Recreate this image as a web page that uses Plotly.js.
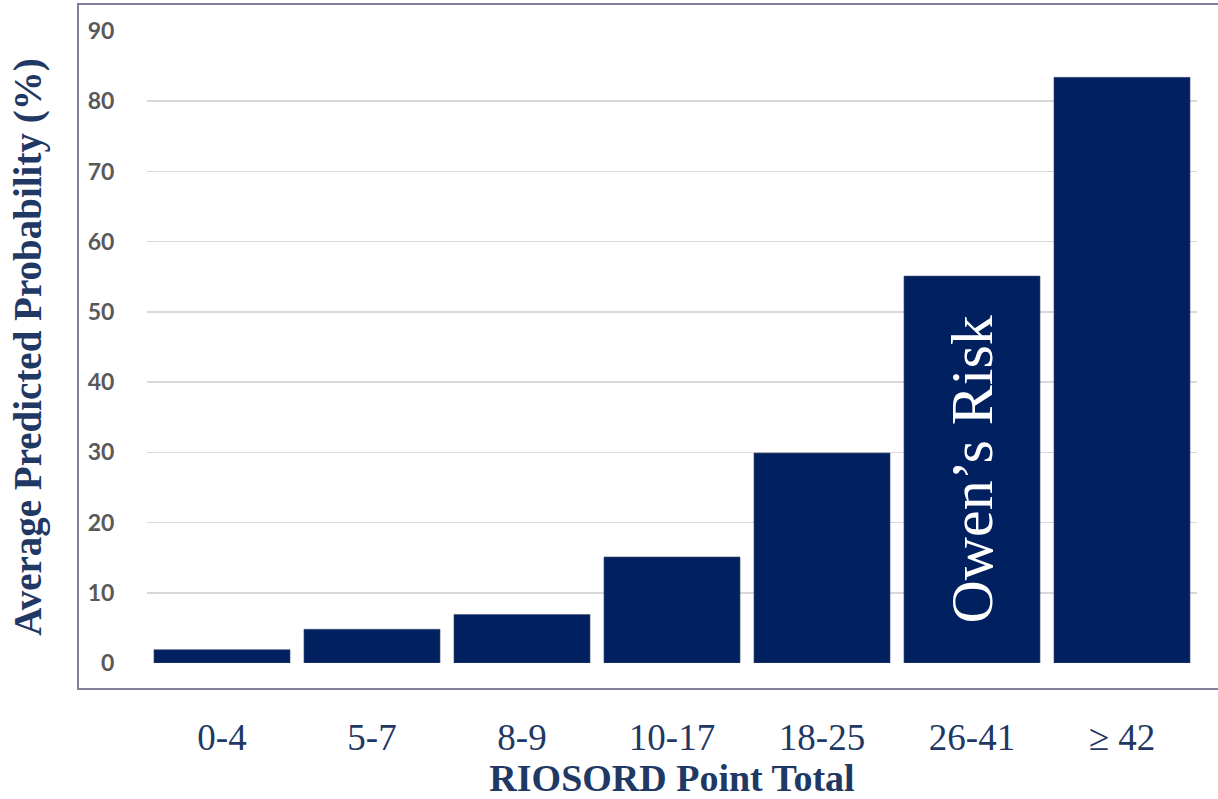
<!DOCTYPE html>
<html>
<head>
<meta charset="utf-8">
<script src="https://cdn.plot.ly/plotly-3.0.1.min.js"></script>
<style>html,body{margin:0;padding:0;background:#fff;}#chart{width:1218px;height:799px;}</style>
</head>
<body>
<div id="chart"></div>
<script>
var categories = ["0-4", "5-7", "8-9", "10-17", "18-25", "26-41", "≥ 42"];
var probabilities = [1.9, 4.8, 6.9, 15.1, 29.9, 55.1, 83.4];
var yTickValues = [0, 10, 20, 30, 40, 50, 60, 70, 80, 90];
var bandLabel = "Owen’s Risk";
var bandCategory = categories[5];

var navy = "#002060";
var textBlue = "#1f3864";

var trace = {
  type: "bar",
  x: categories,
  y: probabilities,
  marker: {color: navy, line: {color: "#44506e", width: 0.6}},
  hoverinfo: "x+y"
};

var layout = {
  width: 1218,
  height: 799,
  margin: {l: 147, r: 21, t: 31, b: 136, pad: 0},
  paper_bgcolor: "#ffffff",
  plot_bgcolor: "#ffffff",
  bargap: 0.093,
  showlegend: false,
  xaxis: {
    type: "category",
    automargin: false,
    showgrid: false,
    zeroline: false,
    showline: false,
    ticks: "outside",
    ticklen: 42,
    tickcolor: "rgba(0,0,0,0)",
    tickfont: {family: "Liberation Serif, DejaVu Serif, serif", size: 37, color: textBlue},
    title: {
      text: "RIOSORD Point Total",
      font: {family: "Liberation Serif, DejaVu Serif, serif", size: 38, color: textBlue, weight: "bold"},
      standoff: 2
    }
  },
  yaxis: {
    range: [0, 90],
    automargin: false,
    tickvals: yTickValues,
    showgrid: true,
    gridcolor: "#d9d9d9",
    gridwidth: 1.5,
    zeroline: false,
    showline: false,
    ticks: "outside",
    ticklen: 27,
    tickcolor: "rgba(0,0,0,0)",
    tickfont: {family: "Lato, Open Sans, sans-serif", size: 23, color: "#595959", weight: "bold"},
    title: {
      text: "Average Predicted Probability (%)",
      font: {family: "Liberation Serif, DejaVu Serif, serif", size: 39, color: textBlue, weight: "bold"},
      standoff: 34
    }
  },
  shapes: [{
    type: "rect",
    xref: "paper", yref: "paper",
    x0: -0.0657, x1: 1.03,
    y0: -0.0411, y1: 1.0427,
    line: {color: "#80809a", width: 2},
    fillcolor: "rgba(0,0,0,0)",
    layer: "below"
  }],
  annotations: [{
    x: bandCategory,
    y: probabilities[5] / 2,
    xref: "x", yref: "y",
    text: bandLabel,
    showarrow: false,
    textangle: -90,
    font: {family: "Liberation Serif, DejaVu Serif, serif", size: 60, color: "#ffffff"}
  }]
};

Plotly.newPlot("chart", [trace], layout, {displayModeBar: false, staticPlot: true});
</script>
</body>
</html>
